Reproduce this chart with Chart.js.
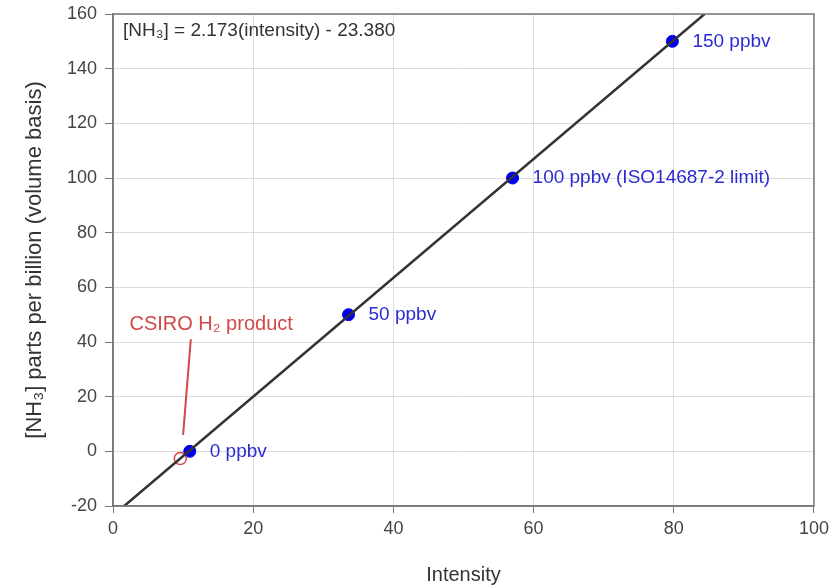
<!DOCTYPE html>
<html>
<head>
<meta charset="utf-8">
<script src="https://cdn.jsdelivr.net/npm/chart.js@4.4.1/dist/chart.umd.min.js"></script>
<style>
  html, body { margin: 0; padding: 0; background: #fff; }
  #wrap { width: 834px; height: 588px; }
</style>
</head>
<body>
<div id="wrap"><canvas id="calib"></canvas></div>
<script>
// calibration standards (intensity vs ppbv)
const stdIntensity = [10.95, 33.6, 57.0, 79.8]
const stdPpbv = [0, 50, 100, 150]
const stdLabels = ['0 ppbv', '50 ppbv', '100 ppbv (ISO14687-2 limit)', '150 ppbv']

// CSIRO sample
const sampleIntensity = [9.6]
const samplePpbv = [-2.6]

// fitted line end points
const fitIntensity = [1.6, 84.4]
const fitPpbv = [-20, 160]

const xTicks = [0, 20, 40, 60, 80, 100]
const yTicks = [-20, 0, 20, 40, 60, 80, 100, 120, 140, 160]

const equationText = '[NH\u2083] = 2.173(intensity) - 23.380'

const font = 'Liberation Sans, Arial, sans-serif'

const toPts = (xs, ys) => xs.map((x, i) => ({ x: x, y: ys[i] }))

const textPlugin = {
    id: 'textPlugin',
    afterDatasetsDraw(chart) {
        const ctx = chart.ctx
        const xs = chart.scales.x
        const ys = chart.scales.y
        const area = chart.chartArea
        ctx.save()
        ctx.textBaseline = 'middle'

        // equation
        ctx.font = '19px ' + font
        ctx.fillStyle = '#333'
        ctx.fillText(equationText, area.left + 10, area.top + 17)

        // standard labels
        ctx.fillStyle = '#2b2bd0'
        for (let i = 0; i < stdLabels.length; i++) {
            ctx.fillText(stdLabels[i], xs.getPixelForValue(stdIntensity[i]) + 20, ys.getPixelForValue(stdPpbv[i]))
        }

        // CSIRO callout
        ctx.strokeStyle = '#d04848'
        ctx.lineWidth = 2
        ctx.beginPath()
        ctx.moveTo(xs.getPixelForValue(11.1), ys.getPixelForValue(41))
        ctx.lineTo(xs.getPixelForValue(10.0), ys.getPixelForValue(6))
        ctx.stroke()
        ctx.font = '20px ' + font
        ctx.fillStyle = '#d04848'
        ctx.textAlign = 'center'
        ctx.fillText('CSIRO H\u2082 product', xs.getPixelForValue(14), ys.getPixelForValue(46.5))

        // plot frame
        ctx.strokeStyle = '#777'
        ctx.lineWidth = 1.5
        ctx.strokeRect(area.left, area.top, area.right - area.left, area.bottom - area.top)
        ctx.restore()
    }
}

const config = {
    type: 'scatter',
    data: {
        datasets: [{
            label: 'fit',
            type: 'line',
            data: toPts(fitIntensity, fitPpbv),
            borderColor: '#333',
            borderWidth: 2.5,
            pointRadius: 0,
            fill: false
        }, {
            label: 'sample',
            data: toPts(sampleIntensity, samplePpbv),
            pointRadius: 6,
            pointBackgroundColor: 'rgba(255,255,255,0)',
            pointBorderColor: '#d04848',
            pointBorderWidth: 1.5
        }, {
            label: 'standards',
            data: toPts(stdIntensity, stdPpbv),
            pointRadius: 6,
            pointBackgroundColor: '#0000ee',
            pointBorderColor: '#0000ee'
        }]
    },
    options: {
        responsive: true,
        maintainAspectRatio: false,
        animation: false,
        layout: { padding: { top: 14, right: 9, left: 0, bottom: 0 } },
        plugins: { legend: { display: false }, tooltip: { enabled: false } },
        scales: {
            x: {
                type: 'linear',
                min: 0, max: 100,
                afterBuildTicks: s => { s.ticks = xTicks.map(v => ({ value: v })) },
                afterFit: s => { s.height = 82 },
                ticks: { font: { family: font, size: 18 }, color: '#444', padding: 5 },
                grid: { color: '#dcdcdc', tickColor: '#777', tickLength: 7 },
                border: { color: '#777', width: 1.5 },
                title: { display: true, text: 'Intensity', font: { family: font, size: 20 }, color: '#333', padding: { top: 10, bottom: 1 } }
            },
            y: {
                type: 'linear',
                min: -20, max: 160,
                afterBuildTicks: s => { s.ticks = yTicks.map(v => ({ value: v })) },
                afterFit: s => { s.width = 113; s.paddingTop = 0; s.paddingBottom = 0 },
                ticks: { font: { family: font, size: 18 }, color: '#444', padding: 8 },
                grid: { color: '#dcdcdc', tickColor: '#777', tickLength: 8 },
                border: { color: '#777', width: 1.5 },
                title: { display: true, text: '[NH\u2083] parts per billion (volume basis)', font: { family: font, size: 22 }, color: '#333', padding: { top: 22, bottom: 0 } }
            }
        }
    },
    plugins: [textPlugin]
}

let ctx = document.querySelector('#calib').getContext('2d')
const calibChart = new Chart(ctx, config)
</script>
</body>
</html>
